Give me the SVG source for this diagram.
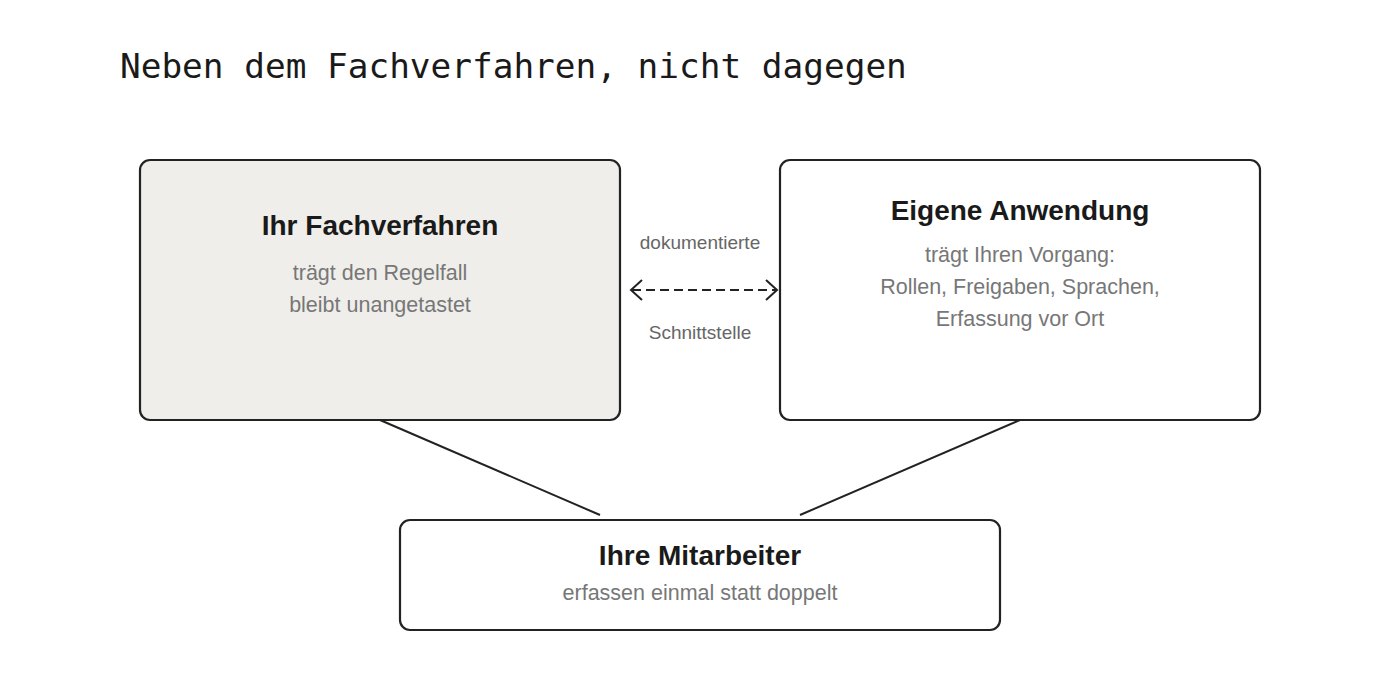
<svg xmlns="http://www.w3.org/2000/svg" width="1400" height="700" viewBox="0 0 1400 700">
<defs>
<style>
.box{stroke:#222;stroke-width:2.2}
.t{font-family:"Liberation Sans",Arial,sans-serif;font-weight:bold;font-size:28px;fill:#1a1a1a;text-anchor:middle}
.s{font-family:"Liberation Sans",Arial,sans-serif;font-size:21.5px;fill:#777;text-anchor:middle}
.l{font-family:"Liberation Sans",Arial,sans-serif;font-size:19px;fill:#666;text-anchor:middle}
.c{stroke:#222;stroke-width:2;fill:none}
</style>
</defs>
<rect width="1400" height="700" fill="#fff"/>
<text x="120" y="78" font-family="'DejaVu Sans Mono','Liberation Mono',monospace" font-size="34.4" fill="#1a1a1a">Neben dem Fachverfahren, nicht dagegen</text>
<g id="connectors">
<line class="c" x1="380" y1="420" x2="600" y2="515"/>
<line class="c" x1="1020" y1="420" x2="800" y2="515"/>
<line class="c" x1="632" y1="290" x2="776" y2="290" stroke-width="2.4" stroke-dasharray="9,5"/>
<polyline class="c" points="642,280 631,290 642,300" stroke-width="2.4"/>
<polyline class="c" points="766,280 777,290 766,300" stroke-width="2.4"/>
<text class="l" x="700" y="249">dokumentierte</text>
<text class="l" x="700" y="339">Schnittstelle</text>
</g>
<g id="fachverfahren">
<rect class="box" x="140" y="160" width="480" height="260" rx="10" fill="#efeeea"/>
<text class="t" x="380" y="235">Ihr Fachverfahren</text>
<text class="s" x="380" y="280">trägt den Regelfall</text>
<text class="s" x="380" y="312">bleibt unangetastet</text>
</g>
<g id="anwendung">
<rect class="box" x="780" y="160" width="480" height="260" rx="10" fill="#fff"/>
<text class="t" x="1020" y="220">Eigene Anwendung</text>
<text class="s" x="1020" y="262">trägt Ihren Vorgang:</text>
<text class="s" x="1020" y="294">Rollen, Freigaben, Sprachen,</text>
<text class="s" x="1020" y="326">Erfassung vor Ort</text>
</g>
<g id="mitarbeiter">
<rect class="box" x="400" y="520" width="600" height="110" rx="10" fill="#fff"/>
<text class="t" x="700" y="565">Ihre Mitarbeiter</text>
<text class="s" x="700" y="600">erfassen einmal statt doppelt</text>
</g>
</svg>
